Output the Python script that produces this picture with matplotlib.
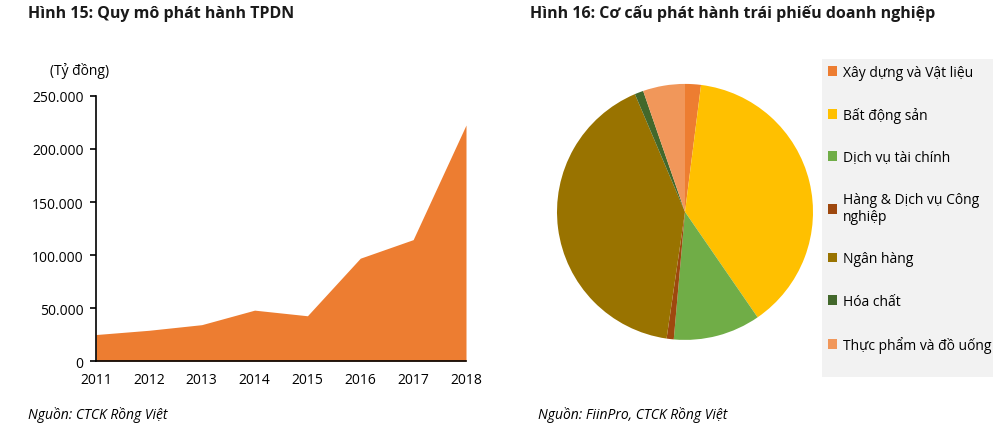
import matplotlib.pyplot as plt
from matplotlib.patches import Rectangle
from matplotlib.ticker import FuncFormatter

plt.rcParams['font.family'] = ['Open Sans', 'DejaVu Sans']

# Hinh 15 data
years = [2011, 2012, 2013, 2014, 2015, 2016, 2017, 2018]
issuance = [25000, 29000, 34300, 48000, 42700, 97000, 114500, 222600]

# Hinh 16 data
sectors = ['Xây dựng và Vật liệu', 'Bất động sản', 'Dịch vụ tài chính',
           'Hàng & Dịch vụ Công\nnghiệp', 'Ngân hàng', 'Hóa chất',
           'Thực phẩm và đồ uống']
shares = [2.0, 38.4, 11.0, 0.9, 41.3, 1.1, 5.3]
colors = ['#ED7D31', '#FFC000', '#70AD47', '#9E480E', '#997300', '#43682B', '#F1975A']

fig = plt.figure(figsize=(10, 4.31), dpi=100)

# area chart
ax = fig.add_axes([0.096, 0.160, 0.370, 0.615])
ax.fill_between(years, issuance, 0, color='#ED7D31', linewidth=0)
ax.set_xlim(2011, 2018)
ax.set_ylim(0, 250000)
ax.set_yticks(range(0, 250001, 50000))
ax.yaxis.set_major_formatter(FuncFormatter(lambda v, p: f'{int(v):,}'.replace(',', '.')))
ax.set_xticks(years)
for s in ['top', 'right']:
    ax.spines[s].set_visible(False)
ax.spines['left'].set_linewidth(1.2)
ax.spines['bottom'].set_linewidth(1.2)
ax.tick_params(axis='y', length=4, width=1.2, labelsize=10, pad=5)
ax.tick_params(axis='x', length=0, labelsize=10, pad=8)

fig.text(0.028, 0.968, 'Hình 15: Quy mô phát hành TPDN', fontsize=11.5,
         fontweight='bold', color='#1a1a1a', va='center')
fig.text(0.050, 0.835, '(Tỷ đồng)', fontsize=10, va='center')
fig.text(0.028, 0.037, 'Nguồn: CTCK Rồng Việt', fontsize=10, style='italic', va='center')

# pie chart
pax = fig.add_axes([0.557, 0.209, 0.256, 0.594])
pax.pie(shares, colors=colors, startangle=90, counterclock=False,
        wedgeprops=dict(linewidth=0))
pax.set_xlim(-1, 1)
pax.set_ylim(-1, 1)
pax.set_aspect('equal')

fig.text(0.530, 0.968, 'Hình 16: Cơ cấu phát hành trái phiếu doanh nghiệp', fontsize=11.5,
         fontweight='bold', color='#1a1a1a', va='center')
fig.text(0.538, 0.037, 'Nguồn: FiinPro, CTCK Rồng Việt', fontsize=10, style='italic', va='center')

fig.patches.append(Rectangle((0.822, 0.123), 0.171, 0.738, transform=fig.transFigure,
                             facecolor='#f2f2f2', edgecolor='none', zorder=0))
handles = [Rectangle((0, 0), 1, 1, facecolor=c, edgecolor='none') for c in colors]
fig.legend(handles, sectors, loc='upper left', bbox_to_anchor=(0.822, 0.86),
           frameon=False, fontsize=10, handlelength=0.7, handleheight=0.7,
           handletextpad=0.4, labelspacing=1.95, borderaxespad=0)

fig.savefig('out.png', dpi=100)
